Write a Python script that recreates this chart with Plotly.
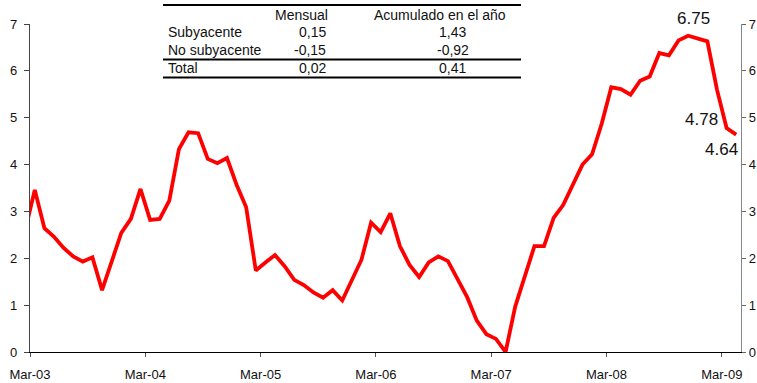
import plotly.graph_objects as go

# Monthly annual variation (%), Feb-2003 .. Apr-2009
start_year, start_month = 2003, 2
values = [
    2.60,                                                                    # 2003 Feb
    3.46, 2.64, 2.46, 2.22, 2.04, 1.93, 2.02, 1.32, 1.93, 2.54,              # 2003 Mar-Dec
    2.84, 3.48, 2.82, 2.84, 3.23, 4.33, 4.69, 4.67, 4.12, 4.03, 4.14, 3.57,  # 2004
    3.09, 1.74, 1.91, 2.07, 1.83, 1.54, 1.43, 1.27, 1.16, 1.32, 1.10, 1.54,  # 2005
    1.97, 2.76, 2.56, 2.96, 2.26, 1.86, 1.60, 1.91, 2.04, 1.94, 1.57, 1.17,  # 2006
    0.67, 0.38, 0.28, 0.00, 0.97, 1.61, 2.26, 2.26, 2.86, 3.14, 3.57, 4.00,  # 2007
    4.22, 4.87, 5.65, 5.61, 5.49, 5.79, 5.88, 6.38, 6.33, 6.65, 6.75, 6.70,  # 2008
    6.63, 5.60, 4.78, 4.64,                                                  # 2009 Jan-Apr
]

month_names = ["Ene", "Feb", "Mar", "Abr", "May", "Jun",
               "Jul", "Ago", "Sep", "Oct", "Nov", "Dic"]
month_labels = []
for i in range(len(values)):
    m = start_month - 1 + i
    month_labels.append(f"{month_names[m % 12]}-{(start_year + m // 12) % 100:02d}")

# Position in months counted from Mar-03; each value sits mid-month
x_pos = [i + (start_month - 3) + 0.5 for i in range(len(values))]

tick_labels = ["Mar-03", "Mar-04", "Mar-05", "Mar-06", "Mar-07", "Mar-08", "Mar-09"]
tick_pos = [12 * k for k in range(len(tick_labels))]
y_ticks = [0, 1, 2, 3, 4, 5, 6, 7]

# Summary table
table_header = ["", "Mensual", "Acumulado en el año"]
table_rows = ["Subyacente", "No subyacente", "Total"]
table_mensual = ["0,15", "-0,15", "0,02"]
table_acumulado = ["1,43", "-0,92", "0,41"]

# Points carrying a value label: (label index, x shift, y shift, anchor)
labelled = [
    (month_labels.index("Nov-08"), 5, 17, "center"),
    (month_labels.index("Mar-09"), -7, 9, "right"),
    (month_labels.index("Abr-09"), 4, -15, "right"),
]

W, H = 757, 383
ML, MR, MT, MB = 30, 16, 24, 31
PW, PH = W - ML - MR, H - MT - MB
FONT = "Liberation Sans, Arial, sans-serif"


def px_x(px):
    return (px - ML) / PW


def px_y(py):
    return (H - MB - py) / PH


fig = go.Figure()
fig.add_trace(go.Scatter(
    x=x_pos, y=values, mode="lines",
    line=dict(color="#ff0000", width=3.8),
    hovertext=month_labels, showlegend=False,
))
# Invisible trace to activate the mirrored right axis
fig.add_trace(go.Scatter(x=[x_pos[0]], y=[values[0]], yaxis="y2",
                         mode="lines", line=dict(width=0), showlegend=False,
                         hoverinfo="skip"))

annotations = []
for idx, dx, dy, anchor in labelled:
    annotations.append(dict(
        x=x_pos[idx], y=values[idx], xref="x", yref="y",
        text=f"{values[idx]:.2f}", showarrow=False,
        xanchor=anchor, yanchor="middle", xshift=dx, yshift=dy,
        font=dict(family=FONT, size=17, color="#111"),
    ))

# Table text
row_y = [32.5, 50, 68.5]
annotations.append(dict(x=px_x(330), y=px_y(15), xref="paper", yref="paper",
                        text=table_header[1], showarrow=False, xanchor="right",
                        yanchor="middle", font=dict(family=FONT, size=14, color="#111")))
annotations.append(dict(x=px_x(440), y=px_y(15), xref="paper", yref="paper",
                        text=table_header[2], showarrow=False, xanchor="center",
                        yanchor="middle", font=dict(family=FONT, size=14, color="#111")))
for r, ry in enumerate(row_y):
    annotations.append(dict(x=px_x(166), y=px_y(ry), xref="paper", yref="paper",
                            text=table_rows[r], showarrow=False, xanchor="left",
                            yanchor="middle", font=dict(family=FONT, size=14, color="#111")))
    annotations.append(dict(x=px_x(328), y=px_y(ry), xref="paper", yref="paper",
                            text=table_mensual[r], showarrow=False, xanchor="right",
                            yanchor="middle", font=dict(family=FONT, size=14, color="#111")))
    annotations.append(dict(x=px_x(453), y=px_y(ry), xref="paper", yref="paper",
                            text=table_acumulado[r], showarrow=False, xanchor="center",
                            yanchor="middle", font=dict(family=FONT, size=14, color="#111")))

shapes = []
for ly in (5, 59.5, 77.5):
    shapes.append(dict(type="line", xref="paper", yref="paper",
                       x0=px_x(163), x1=px_x(521), y0=px_y(ly), y1=px_y(ly),
                       line=dict(color="#000", width=2)))

fig.update_layout(
    width=W, height=H,
    margin=dict(l=ML, r=MR, t=MT, b=MB, pad=0, autoexpand=False),
    paper_bgcolor="white", plot_bgcolor="white",
    font=dict(family=FONT, size=13, color="#111"),
    xaxis=dict(
        range=[0, 74], tickmode="array", tickvals=tick_pos, ticktext=tick_labels,
        showgrid=False, zeroline=False, showline=True, linecolor="#000", linewidth=1.3,
        ticks="outside", ticklen=4, tickcolor="#555", tickfont=dict(size=13),
        ticklabelstandoff=6, automargin=False,
    ),
    yaxis=dict(
        range=[0, 7], tickmode="array", tickvals=y_ticks,
        showgrid=False, zeroline=False, showline=True, linecolor="#444", linewidth=1.3,
        ticks="outside", ticklen=5, tickcolor="#444", tickfont=dict(size=13),
        ticklabelstandoff=4, automargin=False,
    ),
    yaxis2=dict(
        range=[0, 7], tickmode="array", tickvals=y_ticks, overlaying="y", side="right",
        showgrid=False, zeroline=False, showline=True, linecolor="#888", linewidth=1.3,
        ticks="outside", ticklen=4, tickcolor="#666", tickfont=dict(size=13),
        automargin=False,
    ),
    annotations=annotations,
    shapes=shapes,
)

fig.write_html("out.html")
